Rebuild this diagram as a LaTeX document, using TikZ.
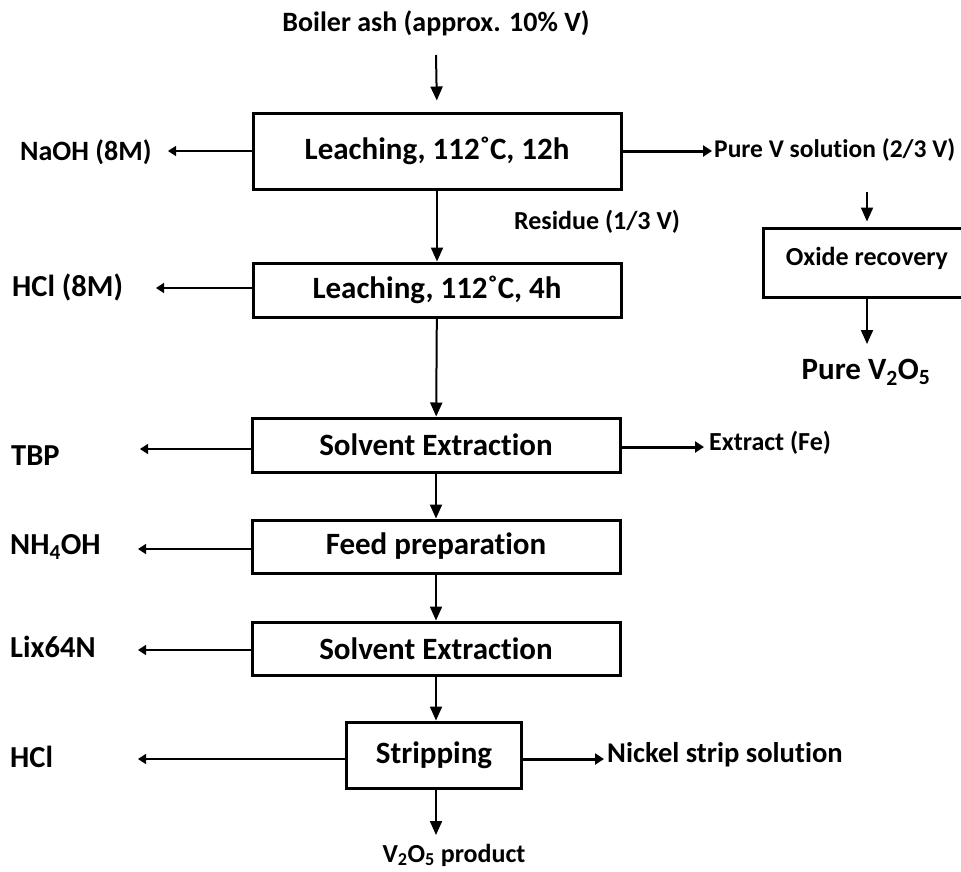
\documentclass[tikz,border=0pt]{standalone}
\usepackage{fontspec}
\setmainfont{Carlito}[Ligatures=NoCommon]
\usetikzlibrary{arrows.meta}

\begin{document}
\begin{tikzpicture}[x=1pt, y=-1pt,
    stage/.style={draw=black, line width=3pt, inner sep=0pt, minimum width=368pt,
        font=\fontsize{31}{36}\selectfont\bfseries},
    feedlabel/.style={anchor=west, inner sep=0pt, font=\fontsize{30.5}{35}\selectfont\bfseries},
    smalllabel/.style={inner sep=0pt, font=\fontsize{26}{30}\selectfont\bfseries},
    flow/.style={line width=2pt, -{Triangle[length=14pt,width=12pt]}},
    side/.style={line width=1.5pt, -{Triangle[length=8pt,width=10pt]}},
    outflow/.style={line width=3pt, -{Triangle[length=9pt,width=11pt]}}]

    % Page frame
    \useasboundingbox (0,0) rectangle (961,871);

    % Main column of stages
    \node[stage, minimum height=76pt] (leachA) at (437,151) {Leaching, 112˚C, 12h};
    \node[stage, minimum height=54pt] (leachB) at (437,290) {Leaching, 112˚C, 4h};
    \node[stage, minimum height=54pt] (sxA) at (436,445) {Solvent Extraction};
    \node[stage, minimum height=53pt] (feed) at (436,546.5) {Feed preparation};
    \node[stage, minimum height=53pt] (sxB) at (436,648.5) {Solvent Extraction};
    \node[stage, minimum height=66pt, minimum width=175pt] (strip) at (434,755) {Stripping};

    % Oxide branch (cut by the right edge)
    \begin{scope}
        \clip (0,0) rectangle (961,871);
        \node[stage, minimum height=69pt, minimum width=208pt] (oxide) at (867,262.5) {};
    \end{scope}
    \node[smalllabel] (oxideText) at (867,258) {Oxide recovery};

    % Feed and reagent labels
    \node[smalllabel, font=\fontsize{28}{33}\selectfont\bfseries] (ash) at (436,23) {Boiler ash (approx. 10\% V)};
    \node[feedlabel, font=\fontsize{28}{33}\selectfont\bfseries] (naoh) at (20,152) {NaOH (8M)};
    \node[feedlabel] (hclA) at (12,287) {HCl (8M)};
    \node[feedlabel] (tbp) at (11,456) {TBP};
    \node[feedlabel] (nh) at (10,547) {NH\textsubscript{4}OH};
    \node[feedlabel] (lix) at (10,647) {Lix64N};
    \node[feedlabel] (hclB) at (10,757) {HCl};

    % Product labels
    \node[smalllabel] (residue) at (597,222) {Residue (1/3 V)};
    \node[smalllabel, anchor=west, font=\fontsize{25.5}{30}\selectfont\bfseries] (pureV) at (714,150) {Pure V solution (2/3 V)};
    \node[smalllabel, anchor=west] (extract) at (709,443) {Extract (Fe)};
    \node[feedlabel, font=\fontsize{28.6}{33}\selectfont\bfseries] (nickel) at (607,755) {Nickel strip solution};
    \node[smalllabel] (product) at (454,855) {V\textsubscript{2}O\textsubscript{5} product};
    \node[smalllabel, font=\fontsize{31}{36}\selectfont\bfseries] (pureOx) at (866,372) {Pure V\textsubscript{2}O\textsubscript{5}};

    % Free arrow ends
    \coordinate (ashEnd) at (436,55);
    \coordinate (naohTip) at (168,151);
    \coordinate (hclATip) at (156,288);
    \coordinate (tbpTip) at (140,449);
    \coordinate (nhTip) at (138,549);
    \coordinate (lixTip) at (138,650);
    \coordinate (hclBTip) at (138,759);
    \coordinate (pureVTip) at (712,151);
    \coordinate (extractTip) at (704,447);
    \coordinate (nickelTip) at (604,759);
    \coordinate (oxideIn) at (867,192);
    \coordinate (oxideOut) at (867,344);
    \coordinate (productEnd) at (436,835);

    % Main flow
    \draw[flow, shorten >=11pt] (ashEnd) -- (leachA.north);
    \draw[flow] (leachA) -- (leachB);
    \draw[flow] (leachB) -- (sxA);
    \draw[flow] (sxA) -- (feed);
    \draw[flow] (feed) -- (sxB);
    \draw[flow] (sxB.south) -- (sxB.south |- strip.north);
    \draw[flow] (strip.south -| productEnd) -- (productEnd);

    % Reagents to the left
    \draw[side] (leachA.west |- naohTip) -- (naohTip);
    \draw[side] (leachB.west |- hclATip) -- (hclATip);
    \draw[side] (sxA.west |- tbpTip) -- (tbpTip);
    \draw[side] (feed.west |- nhTip) -- (nhTip);
    \draw[side] (sxB.west |- lixTip) -- (lixTip);
    \draw[side] (strip.west |- hclBTip) -- (hclBTip);

    % Streams to the right
    \draw[outflow] (leachA.east |- pureVTip) -- (pureVTip);
    \draw[outflow] (sxA.east |- extractTip) -- (extractTip);
    \draw[outflow] (strip.east |- nickelTip) -- (nickelTip);

    % Oxide recovery
    \draw[flow, shorten >=5pt] (oxideIn) -- (oxide.north);
    \draw[flow] (oxide.south) -- (oxideOut);

\end{tikzpicture}
\end{document}
